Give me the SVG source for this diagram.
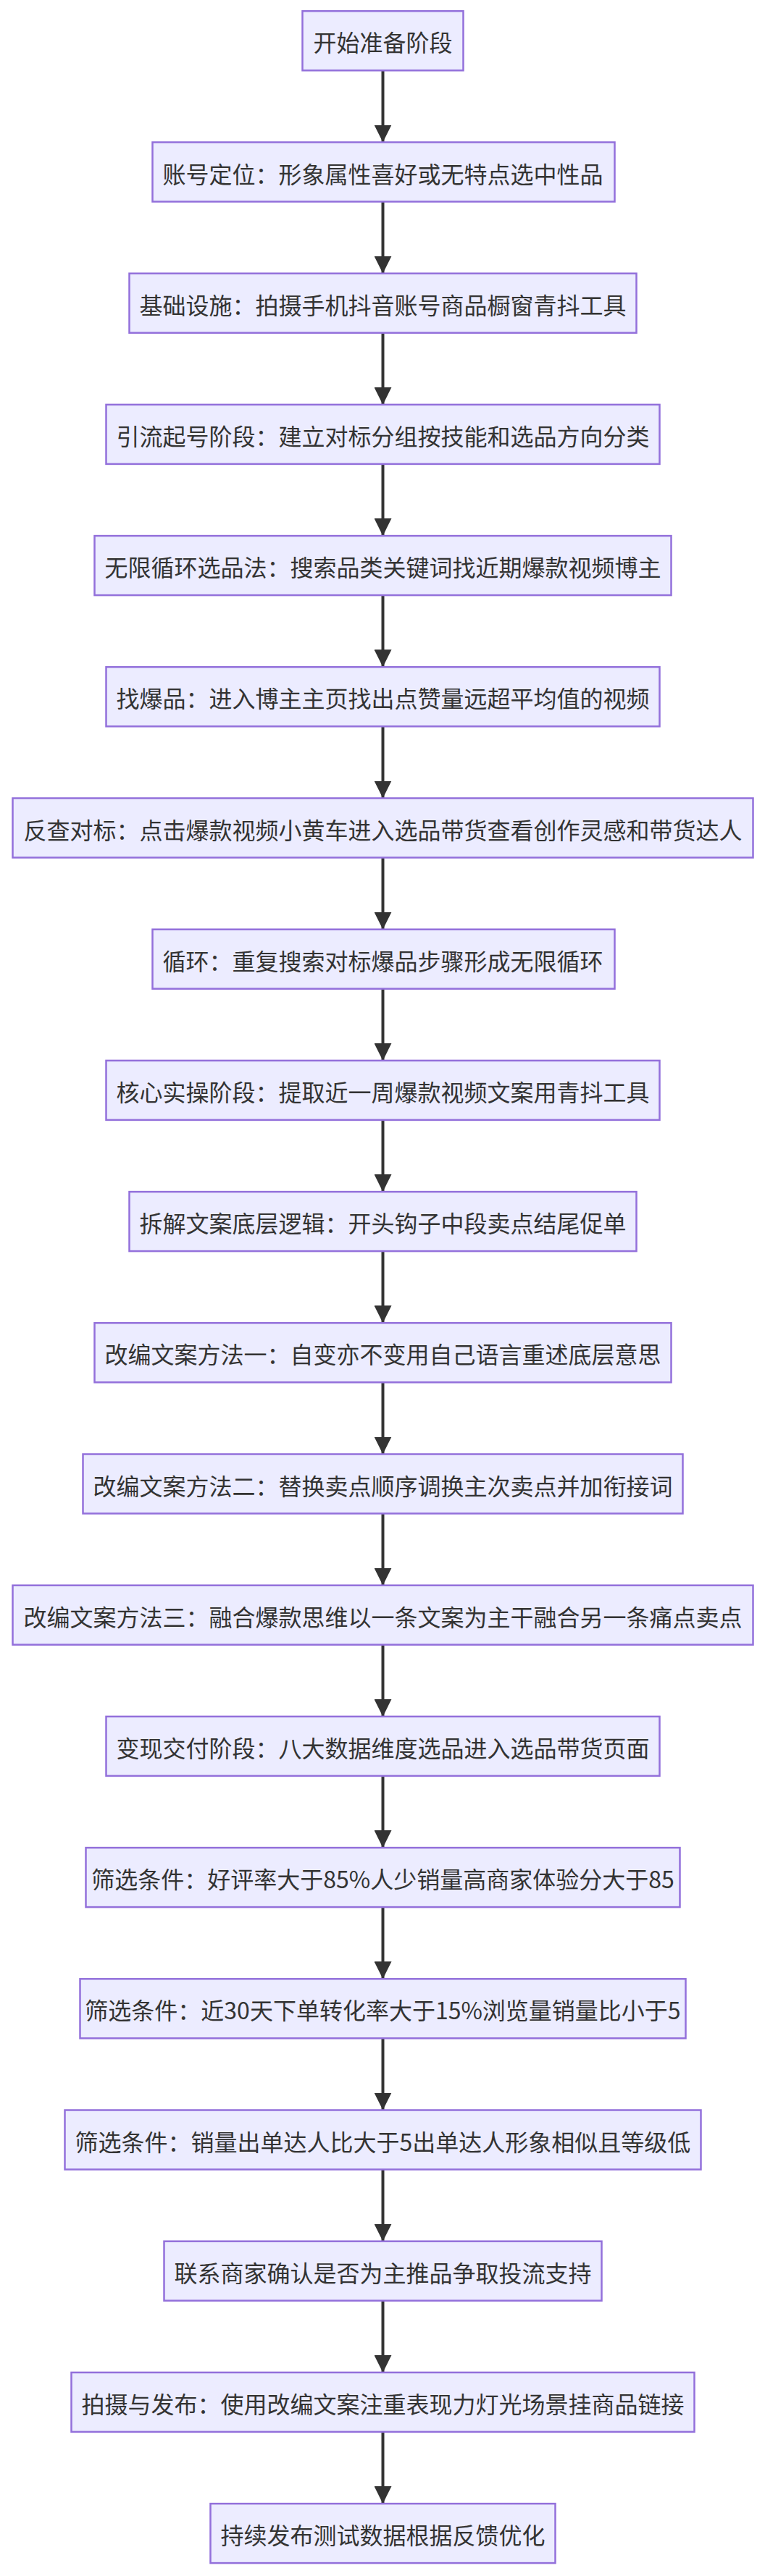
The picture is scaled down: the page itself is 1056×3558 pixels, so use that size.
<svg xmlns="http://www.w3.org/2000/svg" width="1056" height="3558" viewBox="0 0 1056 3558">
<defs>
<style>
.node rect{fill:#ECECFF;stroke:#9370DB;stroke-width:2.5px;}
.node text{fill:#333333;font-family:"Noto Sans CJK SC","Noto Sans",sans-serif;font-size:32px;text-anchor:middle;dominant-baseline:central;}
.edge{stroke:#333333;stroke-width:4px;fill:none;}
</style>
<marker id="arrow" viewBox="0 0 24 24" refX="24" refY="12" markerWidth="24" markerHeight="24" markerUnits="userSpaceOnUse" orient="auto">
<path d="M0,0 L24,12 L0,24 z" fill="#333333"/>
</marker>
</defs>
<rect width="1056" height="3558" fill="#ffffff"/>
<g id="edges">
<line class="edge" x1="528.5" y1="97.3" x2="528.5" y2="196.5" marker-end="url(#arrow)"/>
<line class="edge" x1="528.5" y1="278.5" x2="528.5" y2="377.7" marker-end="url(#arrow)"/>
<line class="edge" x1="528.5" y1="459.7" x2="528.5" y2="558.9" marker-end="url(#arrow)"/>
<line class="edge" x1="528.5" y1="640.9" x2="528.5" y2="740.1" marker-end="url(#arrow)"/>
<line class="edge" x1="528.5" y1="822.1" x2="528.5" y2="921.3" marker-end="url(#arrow)"/>
<line class="edge" x1="528.5" y1="1003.3" x2="528.5" y2="1102.5" marker-end="url(#arrow)"/>
<line class="edge" x1="528.5" y1="1184.5" x2="528.5" y2="1283.7" marker-end="url(#arrow)"/>
<line class="edge" x1="528.5" y1="1365.7" x2="528.5" y2="1464.9" marker-end="url(#arrow)"/>
<line class="edge" x1="528.5" y1="1546.9" x2="528.5" y2="1646.1" marker-end="url(#arrow)"/>
<line class="edge" x1="528.5" y1="1728.1" x2="528.5" y2="1827.3" marker-end="url(#arrow)"/>
<line class="edge" x1="528.5" y1="1909.3" x2="528.5" y2="2008.5" marker-end="url(#arrow)"/>
<line class="edge" x1="528.5" y1="2090.5" x2="528.5" y2="2189.7" marker-end="url(#arrow)"/>
<line class="edge" x1="528.5" y1="2271.7" x2="528.5" y2="2370.9" marker-end="url(#arrow)"/>
<line class="edge" x1="528.5" y1="2452.9" x2="528.5" y2="2552.1" marker-end="url(#arrow)"/>
<line class="edge" x1="528.5" y1="2634.1" x2="528.5" y2="2733.3" marker-end="url(#arrow)"/>
<line class="edge" x1="528.5" y1="2815.3" x2="528.5" y2="2914.5" marker-end="url(#arrow)"/>
<line class="edge" x1="528.5" y1="2996.5" x2="528.5" y2="3095.7" marker-end="url(#arrow)"/>
<line class="edge" x1="528.5" y1="3177.7" x2="528.5" y2="3276.9" marker-end="url(#arrow)"/>
<line class="edge" x1="528.5" y1="3358.9" x2="528.5" y2="3458.1" marker-end="url(#arrow)"/>
</g>
<g id="n1" class="node"><rect x="417.5" y="15.3" width="222" height="82"/><text x="528.5" y="57.3">开始准备阶段</text></g>
<g id="n2" class="node"><rect x="210.5" y="196.5" width="638" height="82"/><text x="528.5" y="238.5">账号定位：形象属性喜好或无特点选中性品</text></g>
<g id="n3" class="node"><rect x="178.5" y="377.7" width="700" height="82"/><text x="528.5" y="419.7">基础设施：拍摄手机抖音账号商品橱窗青抖工具</text></g>
<g id="n4" class="node"><rect x="146.5" y="558.9" width="764" height="82"/><text x="528.5" y="600.9">引流起号阶段：建立对标分组按技能和选品方向分类</text></g>
<g id="n5" class="node"><rect x="130.5" y="740.1" width="796" height="82"/><text x="528.5" y="782.1">无限循环选品法：搜索品类关键词找近期爆款视频博主</text></g>
<g id="n6" class="node"><rect x="146.5" y="921.3" width="764" height="82"/><text x="528.5" y="963.3">找爆品：进入博主主页找出点赞量远超平均值的视频</text></g>
<g id="n7" class="node"><rect x="17.5" y="1102.5" width="1022" height="82"/><text x="528.5" y="1144.5">反查对标：点击爆款视频小黄车进入选品带货查看创作灵感和带货达人</text></g>
<g id="n8" class="node"><rect x="210.5" y="1283.7" width="638" height="82"/><text x="528.5" y="1325.7">循环：重复搜索对标爆品步骤形成无限循环</text></g>
<g id="n9" class="node"><rect x="146.5" y="1464.9" width="764" height="82"/><text x="528.5" y="1506.9">核心实操阶段：提取近一周爆款视频文案用青抖工具</text></g>
<g id="n10" class="node"><rect x="178.5" y="1646.1" width="700" height="82"/><text x="528.5" y="1688.1">拆解文案底层逻辑：开头钩子中段卖点结尾促单</text></g>
<g id="n11" class="node"><rect x="130.5" y="1827.3" width="796" height="82"/><text x="528.5" y="1869.3">改编文案方法一：自变亦不变用自己语言重述底层意思</text></g>
<g id="n12" class="node"><rect x="114.5" y="2008.5" width="828" height="82"/><text x="528.5" y="2050.5">改编文案方法二：替换卖点顺序调换主次卖点并加衔接词</text></g>
<g id="n13" class="node"><rect x="17.5" y="2189.7" width="1022" height="82"/><text x="528.5" y="2231.7">改编文案方法三：融合爆款思维以一条文案为主干融合另一条痛点卖点</text></g>
<g id="n14" class="node"><rect x="146.5" y="2370.9" width="764" height="82"/><text x="528.5" y="2412.9">变现交付阶段：八大数据维度选品进入选品带货页面</text></g>
<g id="n15" class="node"><rect x="118.5" y="2552.1" width="820" height="82"/><text x="528.5" y="2594.1">筛选条件：好评率大于85%人少销量高商家体验分大于85</text></g>
<g id="n16" class="node"><rect x="110.5" y="2733.3" width="836" height="82"/><text x="528.5" y="2775.3">筛选条件：近30天下单转化率大于15%浏览量销量比小于5</text></g>
<g id="n17" class="node"><rect x="89.5" y="2914.5" width="878" height="82"/><text x="528.5" y="2956.5">筛选条件：销量出单达人比大于5出单达人形象相似且等级低</text></g>
<g id="n18" class="node"><rect x="226.5" y="3095.7" width="604" height="82"/><text x="528.5" y="3137.7">联系商家确认是否为主推品争取投流支持</text></g>
<g id="n19" class="node"><rect x="98.5" y="3276.9" width="860" height="82"/><text x="528.5" y="3318.9">拍摄与发布：使用改编文案注重表现力灯光场景挂商品链接</text></g>
<g id="n20" class="node"><rect x="290.5" y="3458.1" width="476" height="82"/><text x="528.5" y="3500.1">持续发布测试数据根据反馈优化</text></g>
</svg>
